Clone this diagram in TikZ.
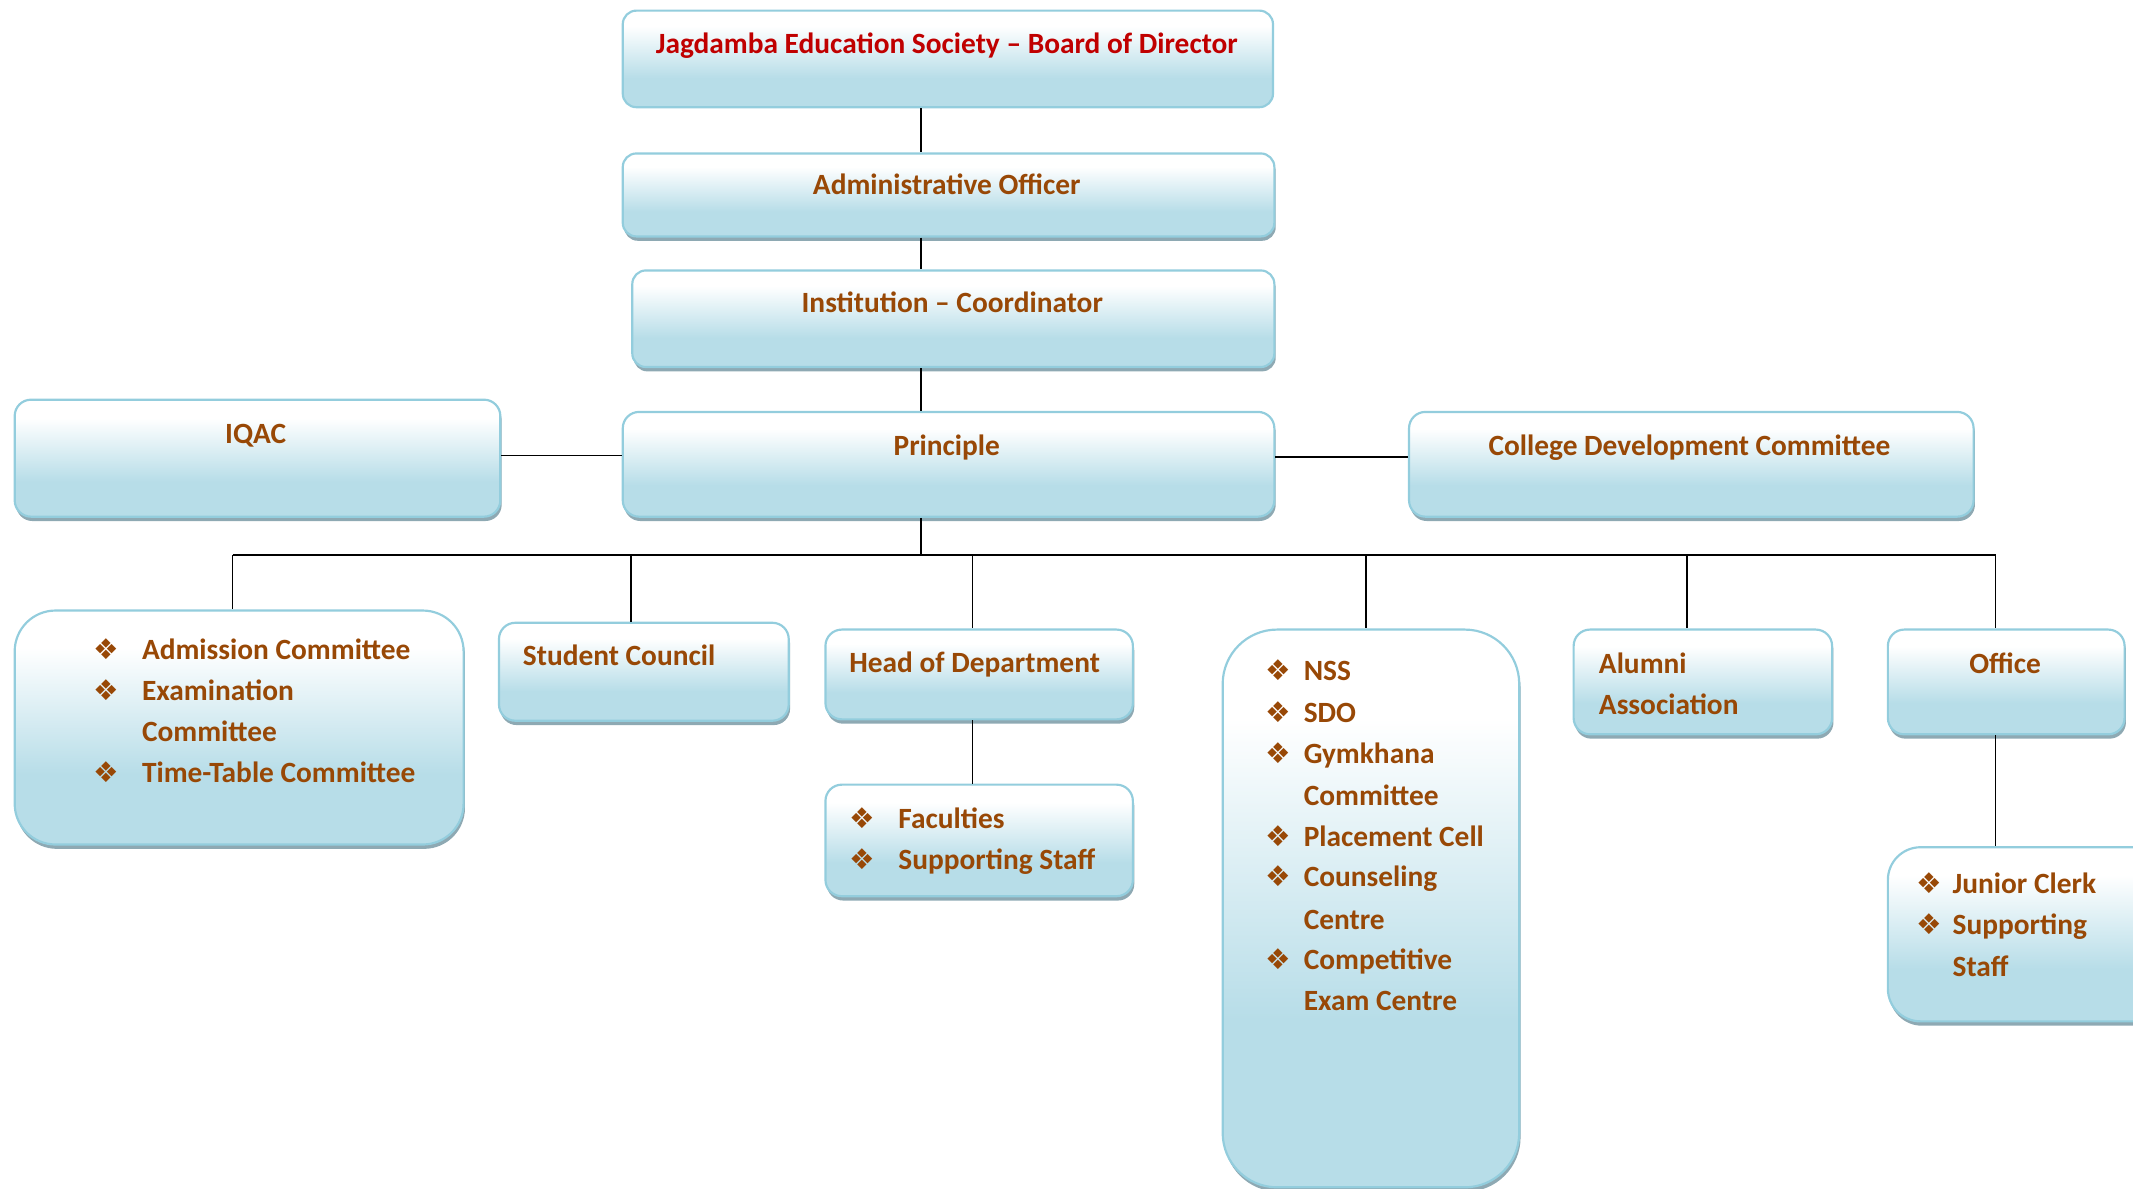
\documentclass[tikz,border=0pt]{standalone}
\usepackage{fontspec}
\setmainfont{Carlito}
\newfontfamily\dejavu{DejaVu Sans}
\usetikzlibrary{shadows}
\definecolor{bord}{HTML}{93CDDD}
\definecolor{bl}{HTML}{B7DDE8}
\definecolor{shad}{HTML}{8EA9B3}
\definecolor{brn}{HTML}{984806}
\definecolor{ttl}{HTML}{C00000}
\pgfdeclareverticalshading{boxshade}{100bp}{color(0bp)=(bl); color(40bp)=(bl); color(67bp)=(white); color(100bp)=(white)}
\tikzset{
  box/.style={draw=bord, line width=0.8pt, shading=boxshade, inner sep=0pt},
  shd/.style={drop shadow={shadow xshift=0.5pt, shadow yshift=-1.6pt, fill=shad, opacity=1}},
  txt/.style={text=brn, font=\bfseries\fontsize{10.8}{15}\selectfont, inner sep=0pt},
  ttltxt/.style={txt, text=ttl},
  bul/.style={text=brn, font=\dejavu\fontsize{10.5}{12}\selectfont, inner sep=0pt},
  conn/.style={line width=0.55pt, black},
  busline/.style={line width=0.9pt, black}
}
\newcommand\obox[7][]{%
  \node[box,#1,rounded corners=#7, minimum width={(#5-#3)*0.5pt}, minimum height={(#6-#4)*0.5pt}, anchor=north west] (#2) at (#3,#4) {};}
% bullet item: name, bullet x, text x, baseline y, text
\newcommand\bitem[5]{%
  \node[bul, anchor=base] (#1b) at (#2,#4) {❖};
  \node[txt, anchor=base west] (#1) at (#3,#4) {#5};}
\newcommand\citem[4]{% continuation line: name, text x, baseline y, text
  \node[txt, anchor=base west] (#1) at (#2,#3) {#4};}
\begin{document}
\begin{tikzpicture}[x=0.5pt,y=-0.5pt]
\useasboundingbox (0,0) rectangle (1568,874);
% ---------- boxes ----------
\obox{jag}{457}{7}{935}{78}{5pt}
\obox[shd]{adm}{457}{112}{936}{173}{5pt}
\obox[shd]{ins}{464}{198}{936}{269}{5pt}
\obox[shd]{iqac}{10}{293}{367}{379}{6pt}
\obox[shd]{prin}{457}{302}{936}{379}{6pt}
\obox[shd]{cdc}{1035}{302}{1450}{379}{6pt}
\obox[shd]{com}{10}{448}{340}{620}{15pt}
\obox[shd]{stu}{366}{457}{579}{529}{6pt}
\obox[shd]{hod}{606}{462}{832}{528}{6pt}
\obox[shd]{fac}{606}{576}{832}{658}{6pt}
\obox[shd]{nss}{898}{462}{1116}{872}{20pt}
\obox[shd]{alu}{1156}{462}{1346}{539}{6pt}
\obox[shd]{off}{1387}{462}{1561}{539}{6pt}
\obox[shd]{jun}{1387}{622}{1600}{750}{12pt}
% ---------- texts ----------
\node[ttltxt, anchor=base] (tjag) at (696,39) {Jagdamba Education Society – Board of Director};
\node[txt, anchor=base] (tadm) at (696,143) {Administrative Officer};
\node[txt, anchor=base] (tins) at (700,230) {Institution – Coordinator};
\node[txt, anchor=base] (tiqac) at (188,326) {IQAC};
\node[txt, anchor=base] (tprin) at (696,335) {Principle};
\node[txt, anchor=base] (tcdc) at (1242,335) {College Development Committee};
\bitem{c1}{78}{104}{485}{Admission Committee}
\bitem{c2}{78}{104}{515}{Examination}
\citem{c3}{104}{545}{Committee}
\bitem{c4}{78}{104}{575}{Time-Table Committee}
\node[txt, anchor=base west] (tstu) at (384,489) {Student Council};
\node[txt, anchor=base west] (thod) at (624,494) {Head of Department};
\bitem{f1}{634}{660}{609}{Faculties}
\bitem{f2}{634}{660}{639}{Supporting Staff}
\bitem{n1}{940}{958}{500}{NSS}
\bitem{n2}{940}{958}{531}{SDO}
\bitem{n3}{940}{958}{561}{Gymkhana}
\citem{n4}{958}{592}{Committee}
\bitem{n5}{940}{958}{622}{Placement Cell}
\bitem{n6}{940}{958}{652}{Counseling}
\citem{n7}{958}{683}{Centre}
\bitem{n8}{940}{958}{713}{Competitive}
\citem{n9}{958}{743}{Exam Centre}
\node[txt, anchor=base west] (talu1) at (1175,495) {Alumni};
\node[txt, anchor=base west] (talu2) at (1175,525) {Association};
\node[txt, anchor=base] (toff) at (1474,495) {Office};
\bitem{j1}{1418}{1435}{657}{Junior Clerk}
\bitem{j2}{1418}{1435}{687}{Supporting}
\citem{j3}{1435}{718}{Staff}
% ---------- connectors ----------
\coordinate (spine) at (677,0);
\coordinate (busL) at (171,408);
\coordinate (busR) at (1467,408);
\draw[conn] (jag.south -| spine) -- (adm.north -| spine);
\draw[conn] (adm.south -| spine) -- (ins.north -| spine);
\draw[conn] (ins.south -| spine) -- (prin.north -| spine);
\draw[conn] (iqac.east |- 0,335) -- (prin.west |- 0,335);
\draw[conn] (prin.east |- 0,336) -- (cdc.west |- 0,336);
\draw[conn] (prin.south -| spine) -- (busL -| spine);
\draw[busline] (busL) -- (busR);
\draw[conn] (busL) -- (com.north -| busL);
\coordinate (d2) at (464,408);
\coordinate (d3) at (715,408);
\coordinate (d4) at (1004,408);
\coordinate (d5) at (1240,408);
\draw[conn] (d2) -- (stu.north -| d2);
\draw[conn] (d3) -- (hod.north -| d3);
\draw[conn] (d4) -- (nss.north -| d4);
\draw[conn] (d5) -- (alu.north -| d5);
\draw[conn] (busR) -- (off.north -| busR);
\draw[conn] (hod.south -| d3) -- (fac.north -| d3);
\draw[conn] (off.south -| busR) -- (jun.north -| busR);
\end{tikzpicture}
\end{document}
